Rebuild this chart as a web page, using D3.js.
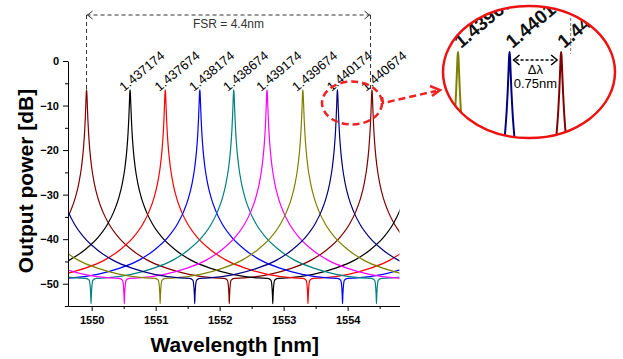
<!DOCTYPE html>
<html>
<head>
<meta charset="utf-8">
<script src="https://cdn.jsdelivr.net/npm/d3@7"></script>
<style>
  body { margin: 0; background: #fff; }
  svg { display: block; font-family: 'Liberation Sans', Arial, sans-serif; }
</style>
</head>
<body>
<div id="chart"></div>
<script>
// Drop-port spectra of the 8 channels
const channels = ['wine', 'black', 'red', 'blue', 'dark cyan', 'magenta', 'olive', 'navy'];
const channelColors = ['#800000', '#000000', '#ff0000', '#0000ff', '#008080', '#ff00ff', '#808000', '#000080'];
const peakWavelengths = [1549.92, 1550.60, 1551.15, 1551.69, 1552.22, 1552.74, 1553.30, 1553.84];
const fsr = 4.46;

// resonance lineshape: offset from peak (nm) -> output power (dB)
const lineOffsets = [0, 0.005, 0.01, 0.02, 0.03, 0.05, 0.08, 0.12, 0.18, 0.25, 0.35, 0.5, 0.7, 0.95, 1.25, 1.6, 2.0, 2.15, 2.2, 2.215, 2.225, 2.23];
const lineDb = [-6.5, -7.3, -9.2, -12.9, -15.8, -19.9, -23.9, -27.4, -30.9, -33.7, -36.6, -39.6, -42.3, -44.7, -46.5, -47.9, -48.7, -48.8, -49.2, -50.3, -52.5, -54.5];

// peak labels
const labelWavelengths = [1550.60, 1551.15, 1551.69, 1552.22, 1552.74, 1553.30, 1553.84, 1554.38];
const labelTexts = ['1.437174', '1.437674', '1.438174', '1.438674', '1.439174', '1.439674', '1.440174', '1.440674'];

const xTicksMajor = [1550, 1551, 1552, 1553, 1554];
const xTicksMinor = [1550.5, 1551.5, 1552.5, 1553.5, 1554.5];
const yTicksMajor = [0, -10, -20, -30, -40, -50];
const yTicksMinor = [-5, -15, -25, -35, -45, -55];

const width = 623;
const height = 359;
const margin = { top: 61, right: 223.5, bottom: 53, left: 68 };

const svg = d3.select('#chart').append('svg')
  .attr('width', width)
  .attr('height', height);

const x = d3.scaleLinear()
  .domain([1549.63, 1554.81])
  .range([margin.left, width - margin.right]);

const y = d3.scaleLinear()
  .domain([-55, 0])
  .range([height - margin.bottom, margin.top]);

// one full period of the lineshape, -FSR/2 .. +FSR/2
const shape = lineOffsets.map((d, i) => ({ dx: d, db: lineDb[i] }));
const period = shape.slice(1).reverse().map(p => ({ dx: -p.dx, db: p.db })).concat(shape);

function channelSeries(peak, lo, hi) {
  const pts = [];
  for (let n = -2; n <= 2; n++) {
    period.forEach(p => {
      const wl = peak + n * fsr + p.dx;
      if (wl < lo || wl > hi) return;
      if (pts.length && wl <= pts[pts.length - 1].wl + 1e-9) return;
      pts.push({ wl: wl, db: p.db });
    });
  }
  return pts;
}

const series = channels.map((c, i) => ({
  name: c,
  color: channelColors[i],
  values: channelSeries(peakWavelengths[i], 1549.2, 1555.2)
}));

svg.append('clipPath').attr('id', 'plot-clip')
  .append('rect')
  .attr('x', margin.left)
  .attr('y', 0)
  .attr('width', width - margin.right - margin.left)
  .attr('height', height - margin.bottom);

const line = d3.line()
  .x(d => x(d.wl))
  .y(d => y(d.db))
  .curve(d3.curveMonotoneX);

svg.append('g')
  .attr('clip-path', 'url(#plot-clip)')
  .selectAll('path')
  .data(series)
  .enter().append('path')
  .attr('d', d => line(d.values))
  .attr('fill', 'none')
  .attr('stroke', d => d.color)
  .attr('stroke-width', 1.2);

// axes
svg.append('g')
  .attr('transform', `translate(0,${height - margin.bottom})`)
  .call(d3.axisBottom(x).tickValues(xTicksMajor).tickFormat(d3.format('d')).tickSize(5).tickSizeOuter(0).tickPadding(5));
svg.append('g')
  .attr('transform', `translate(0,${height - margin.bottom})`)
  .call(d3.axisBottom(x).tickValues(xTicksMinor).tickFormat('').tickSize(3).tickSizeOuter(0))
  .select('.domain').remove();

svg.append('g')
  .attr('transform', `translate(${margin.left},0)`)
  .call(d3.axisLeft(y).tickValues(yTicksMajor).tickFormat(d3.format('d')).tickSize(5).tickSizeOuter(0).tickPadding(4));
svg.append('g')
  .attr('transform', `translate(${margin.left},0)`)
  .call(d3.axisLeft(y).tickValues(yTicksMinor).tickFormat('').tickSize(3).tickSizeOuter(0))
  .select('.domain').remove();

svg.selectAll('.tick text')
  .attr('font-family', "'Liberation Sans', Arial, sans-serif")
  .attr('font-size', 11)
  .attr('font-weight', 'bold')
  .attr('fill', '#000');
svg.selectAll('.domain, .tick line').attr('stroke', '#000');

svg.append('text')
  .attr('x', (x.range()[0] + x.range()[1]) / 2 + 1)
  .attr('y', 352)
  .attr('text-anchor', 'middle')
  .attr('font-size', 21)
  .attr('font-weight', 'bold')
  .text('Wavelength [nm]');

svg.append('text')
  .attr('transform', 'translate(33,181) rotate(-90)')
  .attr('text-anchor', 'middle')
  .attr('font-size', 21)
  .attr('font-weight', 'bold')
  .text('Output power [dB]');

// peak labels
svg.selectAll('.peak-label')
  .data(labelTexts)
  .enter().append('text')
  .attr('class', 'peak-label')
  .attr('transform', (d, i) => `translate(${x(labelWavelengths[i]) - 6},${y(-6.5) + 2}) rotate(-40)`)
  .attr('font-size', 13)
  .attr('fill', '#000')
  .text(d => d);

// FSR annotation
const fsrLeft = x(peakWavelengths[0]);
const fsrRight = x(labelWavelengths[7]) - 1.5;
const fsrY = 15;
const dash = svg.append('g')
  .attr('stroke', '#333')
  .attr('stroke-width', 1)
  .attr('stroke-dasharray', '4,3')
  .attr('fill', 'none');
dash.append('line').attr('x1', fsrLeft).attr('x2', fsrLeft).attr('y1', fsrY).attr('y2', y(-6.5));
dash.append('line').attr('x1', fsrRight).attr('x2', fsrRight).attr('y1', fsrY).attr('y2', y(-6.5));
dash.append('line').attr('x1', fsrLeft).attr('x2', fsrRight).attr('y1', fsrY).attr('y2', fsrY);
svg.append('path')
  .attr('d', `M${fsrLeft + 6},${fsrY - 4}L${fsrLeft + 1},${fsrY}L${fsrLeft + 6},${fsrY + 4}` +
             `M${fsrRight - 6},${fsrY - 4}L${fsrRight - 1},${fsrY}L${fsrRight - 6},${fsrY + 4}`)
  .attr('stroke', '#333')
  .attr('fill', 'none');
svg.append('text')
  .attr('x', (fsrLeft + fsrRight) / 2)
  .attr('y', 28)
  .attr('text-anchor', 'middle')
  .attr('font-size', 12)
  .attr('fill', '#333')
  .text('FSR = 4.4nm');

// small dashed ellipse and pointer
svg.append('ellipse')
  .attr('cx', 352).attr('cy', 103)
  .attr('rx', 30).attr('ry', 21.5)
  .attr('fill', 'none')
  .attr('stroke', '#ee2222')
  .attr('stroke-width', 2.5)
  .attr('stroke-dasharray', '7,4');
svg.append('path')
  .attr('d', 'M382,97L383,103L436,91')
  .attr('fill', 'none')
  .attr('stroke', '#ee2222')
  .attr('stroke-width', 2.5)
  .attr('stroke-dasharray', '7,4');
svg.append('path')
  .attr('d', 'M430,86L440,90L432,96')
  .attr('fill', 'none')
  .attr('stroke', '#ee2222')
  .attr('stroke-width', 2.5);

// magnified inset
const inset = { cx: 529, cy: 72, rx: 86, ry: 66 };
const xi = d3.scaleLinear().domain([1553.143, 1554.944]).range([443, 615]);
const yi = d3.scaleLinear().domain([-20.5, 0.5]).range([140, 8]);

svg.append('clipPath').attr('id', 'inset-clip')
  .append('ellipse')
  .attr('cx', inset.cx).attr('cy', inset.cy)
  .attr('rx', inset.rx).attr('ry', inset.ry);

svg.append('ellipse')
  .attr('cx', inset.cx).attr('cy', inset.cy)
  .attr('rx', inset.rx).attr('ry', inset.ry)
  .attr('fill', '#fff');

const insetG = svg.append('g').attr('clip-path', 'url(#inset-clip)');

const insetLine = d3.line()
  .x(d => xi(d.wl))
  .y(d => yi(d.db))
  .curve(d3.curveMonotoneX);

insetG.selectAll('path')
  .data(series)
  .enter().append('path')
  .attr('d', d => insetLine(d.values))
  .attr('fill', 'none')
  .attr('stroke', d => d.color)
  .attr('stroke-width', 2);

// only the peaks that fall inside the magnified window get a label there
const insetLabels = labelTexts
  .map((t, i) => ({ text: t, wl: labelWavelengths[i] }))
  .filter(d => d.wl > xi.domain()[0] && d.wl < xi.domain()[1]);

insetG.selectAll('.inset-label')
  .data(insetLabels)
  .enter().append('text')
  .attr('class', 'inset-label')
  .attr('transform', d => `translate(${xi(d.wl) + 3},${yi(-6.5) - 3}) rotate(-40)`)
  .attr('font-size', 19)
  .attr('font-weight', 'bold')
  .attr('fill', '#111')
  .text(d => d.text);

insetG.append('line')
  .attr('x1', xi(1554.48)).attr('x2', xi(1554.48))
  .attr('y1', 18).attr('y2', 54)
  .attr('stroke', '#777')
  .attr('stroke-dasharray', '3,2');

const dl0 = xi(peakWavelengths[7]) + 4;
const dl1 = xi(labelWavelengths[7]) - 4;
insetG.append('line')
  .attr('x1', dl0 + 2).attr('x2', dl1 - 2)
  .attr('y1', 60).attr('y2', 60)
  .attr('stroke', '#000')
  .attr('stroke-width', 1.5)
  .attr('stroke-dasharray', '3,2');
insetG.append('path')
  .attr('d', `M${dl0 + 6},55L${dl0},60L${dl0 + 6},65M${dl1 - 6},55L${dl1},60L${dl1 - 6},65`)
  .attr('fill', 'none')
  .attr('stroke', '#000')
  .attr('stroke-width', 1.5);
insetG.append('text')
  .attr('x', (dl0 + dl1) / 2).attr('y', 74)
  .attr('text-anchor', 'middle')
  .attr('font-size', 13)
  .text('Δλ');
insetG.append('text')
  .attr('x', (dl0 + dl1) / 2).attr('y', 88)
  .attr('text-anchor', 'middle')
  .attr('font-size', 13)
  .text('0.75nm');

svg.append('ellipse')
  .attr('cx', inset.cx).attr('cy', inset.cy)
  .attr('rx', inset.rx).attr('ry', inset.ry)
  .attr('fill', 'none')
  .attr('stroke', '#ee1111')
  .attr('stroke-width', 2.5);
</script>
</body>
</html>
